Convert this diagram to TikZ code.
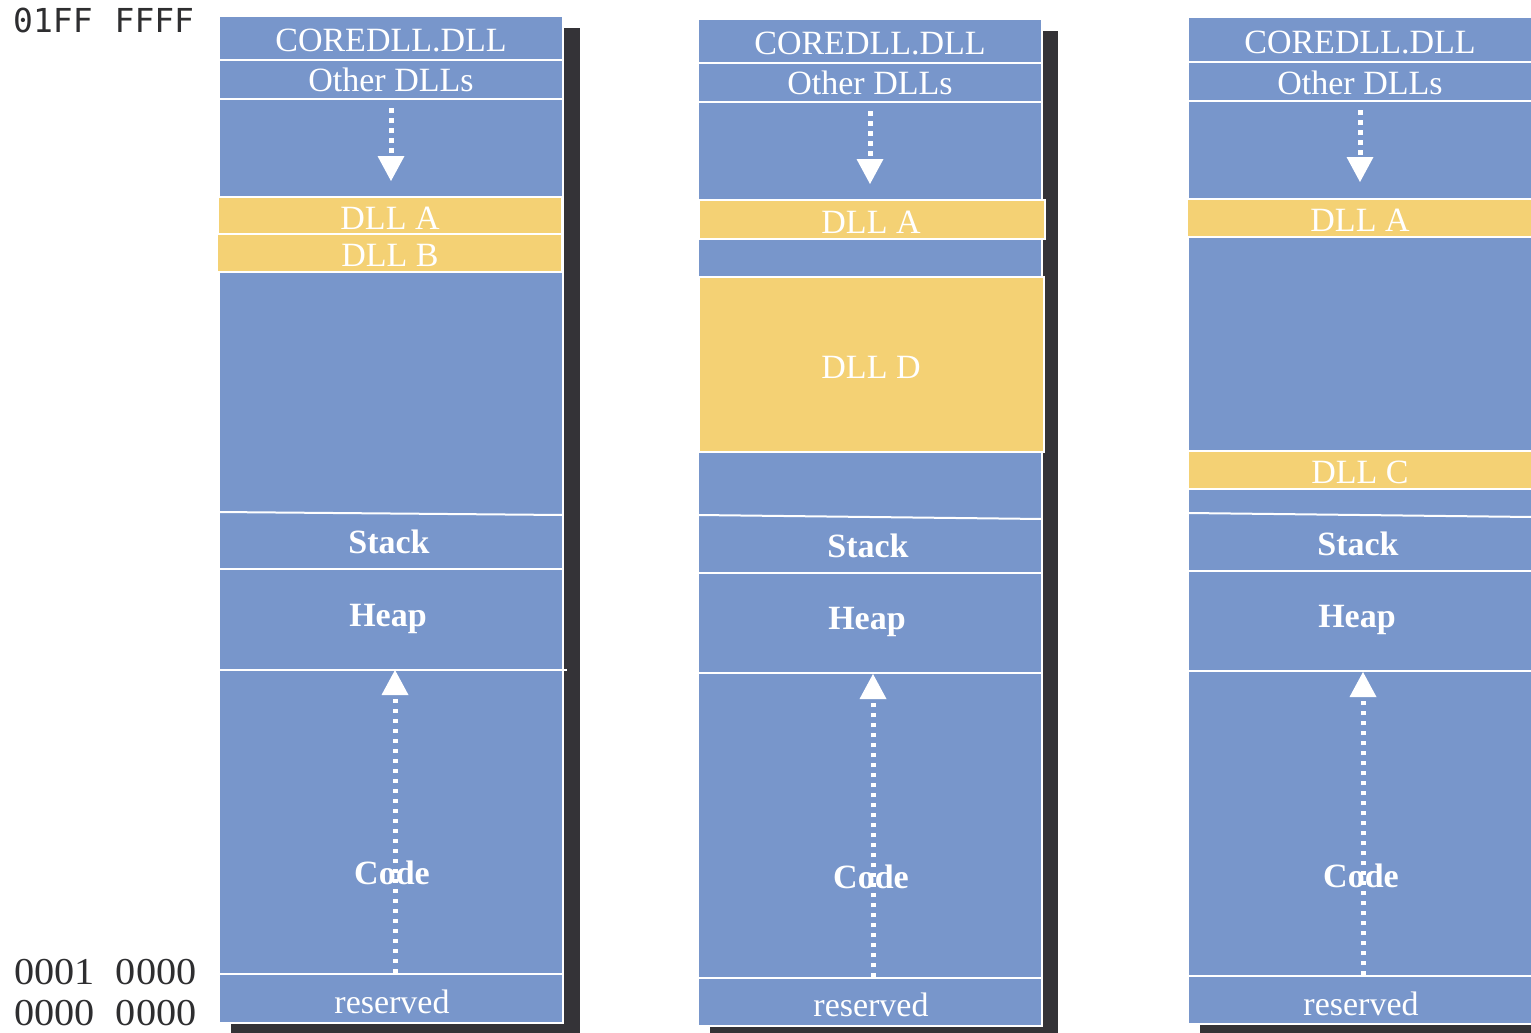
\documentclass[tikz,border=0pt]{standalone}
\usepackage{fontspec}
\usepackage{graphicx}
\setmainfont{Liberation Serif}
\newfontfamily\addrmono{DejaVu Sans Mono}
\usetikzlibrary{arrows.meta}

\definecolor{memblue}{HTML}{7896CB}
\definecolor{dllgold}{HTML}{F4D174}
\definecolor{shade}{HTML}{343337}
\definecolor{addrgray}{HTML}{2E2E30}

\newcommand\regfont{\fontsize{34}{40}\selectfont}
\newcommand\heavyfont{\fontsize{34}{40}\selectfont\bfseries}
\newcommand\addrpair[2]{\scalebox{1.06}[1]{#1\hspace{20pt}#2}}

\begin{document}
\begin{tikzpicture}[x=1pt, y=-1pt,
  column/.style={fill=memblue, draw=white, line width=2pt},
  dllband/.style={fill=dllgold, draw=white, line width=2pt},
  divider/.style={draw=white, line width=2pt},
  backshade/.style={fill=shade},
  tag/.style={text=white, anchor=base, inner sep=0pt, font=\regfont},
  boldtag/.style={tag, font=\heavyfont},
  growth/.style={draw=white, line width=5pt, dash pattern=on 4.5pt off 5.5pt,
    -{Triangle[width=27pt,length=25pt,line width=0pt]}},
  addr/.style={text=addrgray, anchor=base west, inner sep=0pt}]

\useasboundingbox (0,0) rectangle (1531,1033);

% address labels
\node[addr, font=\addrmono\fontsize{33}{38}\selectfont] (top) at (13,33) {01FF\hspace{22pt}FFFF};
\node[addr, font=\fontsize{38}{44}\selectfont] (codebase) at (14,984) {\addrpair{0001}{0000}};
\node[addr, font=\fontsize{38}{44}\selectfont] (zero) at (14,1025) {\addrpair{0000}{0000}};

% ---------- first process: DLL A and DLL B ----------
\begin{scope}[xshift=219pt]
  \fill[backshade] (12,28) rectangle (361,1036);
  \path[column] (0,16) rectangle (344,1023);
  \path[dllband] (-1,197) rectangle (343,234);
  \path[dllband] (-2,234) rectangle (343,272);
  \foreach \yy in {60,99,569,974} \draw[divider] (0,\yy) -- (344,\yy);
  \draw[divider] (0,669.5) -- (348,669.5);
  \draw[divider] (0,512) -- (344,515);
  \node[tag] (p1core) at (172,52) {COREDLL.DLL};
  \node[tag] (p1other) at (172,92) {Other DLLs};
  \node[tag] (p1dlla) at (171,229) {DLL A};
  \node[tag] (p1dllb) at (171,266) {DLL B};
  \node[boldtag] (p1stack) at (170,553) {Stack};
  \node[boldtag] (p1heap) at (169,626) {Heap};
  \node[boldtag] (p1code) at (173,884) {Code};
  \node[tag] (p1res) at (173,1013) {reserved};
  \coordinate (p1dtop) at (172,108);
  \coordinate (p1dend) at (172,181);
  \coordinate (p1ubot) at (176,973);
  \coordinate (p1uend) at (176,670);
  \draw[growth] (p1dtop) -- (p1dend);
  \draw[growth] (p1ubot) -- (p1uend);
\end{scope}

% ---------- second process: DLL A and DLL D ----------
\begin{scope}[xshift=698pt]
  \fill[backshade] (12,31) rectangle (360,1036);
  \path[column] (0,19) rectangle (344,1026);
  \path[dllband] (1,200) rectangle (347,239);
  \path[dllband] (1,277) rectangle (346,452);
  \foreach \yy in {63,102,573,673,978} \draw[divider] (0,\yy) -- (344,\yy);
  \draw[divider] (0,515) -- (344,519);
  \node[tag] (p2core) at (172,55) {COREDLL.DLL};
  \node[tag] (p2other) at (172,95) {Other DLLs};
  \node[tag] (p2dlla) at (173,233) {DLL A};
  \node[tag] (p2dlld) at (173,378) {DLL D};
  \node[boldtag] (p2stack) at (170,557) {Stack};
  \node[boldtag] (p2heap) at (169,629) {Heap};
  \node[boldtag] (p2code) at (173,888) {Code};
  \node[tag] (p2res) at (173,1016) {reserved};
  \coordinate (p2dtop) at (172,111);
  \coordinate (p2dend) at (172,184);
  \coordinate (p2ubot) at (175,977);
  \coordinate (p2uend) at (175,674);
  \draw[growth] (p2dtop) -- (p2dend);
  \draw[growth] (p2ubot) -- (p2uend);
\end{scope}

% ---------- third process: DLL A and DLL C ----------
\begin{scope}[xshift=1188pt]
  \fill[backshade] (12,30) rectangle (360,1036);
  \path[column] (0,17) rectangle (344,1024);
  \path[dllband] (-1,199) rectangle (344,237);
  \path[dllband] (0,451) rectangle (344,489);
  \foreach \yy in {62,101,571,671,976} \draw[divider] (0,\yy) -- (344,\yy);
  \draw[divider] (0,513) -- (344,517);
  \node[tag] (p3core) at (172,53) {COREDLL.DLL};
  \node[tag] (p3other) at (172,94) {Other DLLs};
  \node[tag] (p3dlla) at (172,231) {DLL A};
  \node[tag] (p3dllc) at (172,483) {DLL C};
  \node[boldtag] (p3stack) at (170,555) {Stack};
  \node[boldtag] (p3heap) at (169,627) {Heap};
  \node[boldtag] (p3code) at (173,887) {Code};
  \node[tag] (p3res) at (173,1015) {reserved};
  \coordinate (p3dtop) at (172,110);
  \coordinate (p3dend) at (172,182);
  \coordinate (p3ubot) at (175,975);
  \coordinate (p3uend) at (175,672);
  \draw[growth] (p3dtop) -- (p3dend);
  \draw[growth] (p3ubot) -- (p3uend);
\end{scope}
\end{tikzpicture}
\end{document}
